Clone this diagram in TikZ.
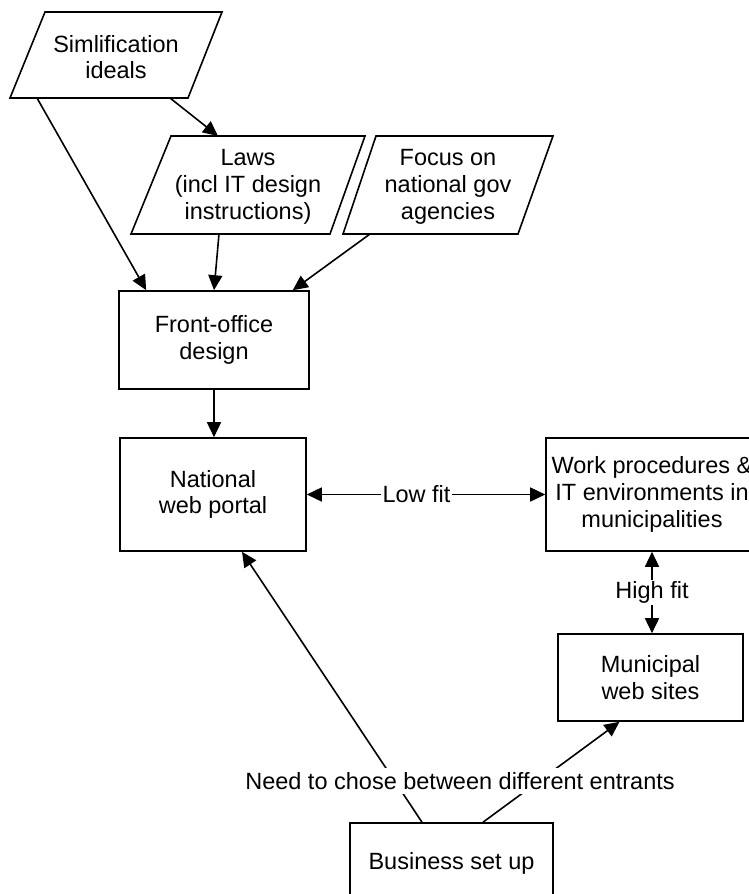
\documentclass[tikz,border=0pt]{standalone}
\usepackage{fontspec}
\setmainfont{Liberation Sans}
\usetikzlibrary{arrows.meta,calc}
\begin{document}
\begin{tikzpicture}[x=1pt,y=-1pt,line width=1.6pt,
  >={Triangle[length=15pt,width=14pt]},
  txt/.style={font=\fontsize{23.5}{26.8}\selectfont,align=center,inner sep=0pt},
  box/.style={draw,txt,line width=1.6pt},
  lbl/.style={txt,fill=white,inner sep=1.5pt}]
\useasboundingbox (0,0) rectangle (749,894);
\clip (0,0) rectangle (749,894);
% parallelograms
\draw (45,12) -- (222,12) -- (188,98) -- (10,98) -- cycle;
\node[txt] (simp) at (116,57) {Simlification\\ideals};
\draw (171,136) -- (365,136) -- (330,234) -- (131,234) -- cycle;
\node[txt] (laws) at (248,187) {Laws\\(incl IT design\\instructions)};
\draw (376,136) -- (553,136) -- (518,234) -- (343,234) -- cycle;
\node[txt] (focus) at (448,187) {Focus on\\national gov\\agencies};
\coordinate (simpA) at (37,98);
\coordinate (simpB) at (170,98);
\coordinate (lawsT) at (218,136);
\coordinate (lawsB) at (219,234);
\coordinate (focusB) at (370,234);
% boxes
\node[box,minimum width=190pt,minimum height=98pt] (front) at (214,340) {Front-office\\design};
\node[box,minimum width=186pt,minimum height=113pt] (natl) at (213,494.5) {National\\web portal};
\node[box,minimum width=212pt,minimum height=113pt] (work) at (652,494.5) {Work procedures \&\\IT environments in\\municipalities};
\node[box,minimum width=185pt,minimum height=87pt] (muni) at (650.5,677.5) {Municipal\\web sites};
\node[box,minimum width=203pt,minimum height=80pt] (biz) at (451.5,863) {Business set up};
% connectors
\draw[->] (simpA) -- ([xshift=28pt]front.north west);
\draw[->] (simpB) -- (lawsT);
\draw[->] (lawsB) -- (front.north);
\draw[->] (focusB) -- ([xshift=-17pt]front.north east);
\draw[->] (front.south) -- (front.south |- natl.north);
\draw[<->] (natl.east) -- node[lbl,pos=0.46] (lowfit) {Low fit} (work.west);
\draw[<->] (work.south) -- node[lbl] (highfit) {High fit} (work.south |- muni.north);
\draw[->] ([xshift=-29.5pt]biz.north) -- ([xshift=29pt]natl.south);
\draw[->] ([xshift=31.5pt]biz.north) -- ([xshift=-31pt]muni.south);
\node[lbl,inner sep=4pt] (need) at (460,781) {Need to chose between different entrants};
\end{tikzpicture}
\end{document}
